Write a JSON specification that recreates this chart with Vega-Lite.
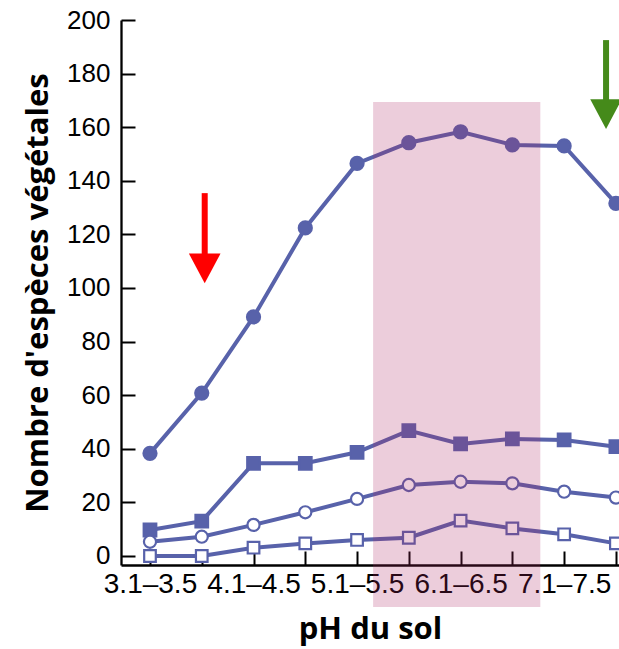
{
  "$schema": "https://vega.github.io/schema/vega-lite/v6.json",
  "autosize": {"type": "none"},
  "width": 498,
  "height": 545,
  "padding": {"left": 121, "top": 20, "right": 0, "bottom": 84},
  "background": "white",
  "config": {
    "view": {"stroke": null},
    "axis": {
      "domainColor": "black",
      "domainWidth": 2.3,
      "tickColor": "black",
      "tickWidth": 2,
      "tickSize": -14,
      "grid": false,
      "labelFont": "Liberation Sans",
      "labelFontSize": 26,
      "labelColor": "black",
      "titleFont": "Open Sans",
      "titleFontWeight": "bold",
      "titleFontSize": 31,
      "titleColor": "black",
      "labelOverlap": false,
      "labelBound": false,
      "labelFlush": false
    }
  },
  "datasets": {
    "series": [
      {"ph": "3.1–3.5", "i": 0, "serie": "A", "n": 38.3},
      {"ph": "3.6–4.0", "i": 1, "serie": "A", "n": 60.8},
      {"ph": "4.1–4.5", "i": 2, "serie": "A", "n": 89.2},
      {"ph": "4.6–5.0", "i": 3, "serie": "A", "n": 122.4},
      {"ph": "5.1–5.5", "i": 4, "serie": "A", "n": 146.5},
      {"ph": "5.6–6.0", "i": 5, "serie": "A", "n": 154.2},
      {"ph": "6.1–6.5", "i": 6, "serie": "A", "n": 158.3},
      {"ph": "6.6–7.0", "i": 7, "serie": "A", "n": 153.4},
      {"ph": "7.1–7.5", "i": 8, "serie": "A", "n": 153.0},
      {"ph": "7.6–8.0", "i": 9, "serie": "A", "n": 131.6},
      {"ph": "3.1–3.5", "i": 0, "serie": "B", "n": 9.7},
      {"ph": "3.6–4.0", "i": 1, "serie": "B", "n": 13.0},
      {"ph": "4.1–4.5", "i": 2, "serie": "B", "n": 34.6},
      {"ph": "4.6–5.0", "i": 3, "serie": "B", "n": 34.6},
      {"ph": "5.1–5.5", "i": 4, "serie": "B", "n": 38.7},
      {"ph": "5.6–6.0", "i": 5, "serie": "B", "n": 46.8},
      {"ph": "6.1–6.5", "i": 6, "serie": "B", "n": 41.8},
      {"ph": "6.6–7.0", "i": 7, "serie": "B", "n": 43.7},
      {"ph": "7.1–7.5", "i": 8, "serie": "B", "n": 43.3},
      {"ph": "7.6–8.0", "i": 9, "serie": "B", "n": 40.8},
      {"ph": "3.1–3.5", "i": 0, "serie": "C", "n": 5.3},
      {"ph": "3.6–4.0", "i": 1, "serie": "C", "n": 7.2},
      {"ph": "4.1–4.5", "i": 2, "serie": "C", "n": 11.6},
      {"ph": "4.6–5.0", "i": 3, "serie": "C", "n": 16.3},
      {"ph": "5.1–5.5", "i": 4, "serie": "C", "n": 21.3},
      {"ph": "5.6–6.0", "i": 5, "serie": "C", "n": 26.5},
      {"ph": "6.1–6.5", "i": 6, "serie": "C", "n": 27.7},
      {"ph": "6.6–7.0", "i": 7, "serie": "C", "n": 27.1},
      {"ph": "7.1–7.5", "i": 8, "serie": "C", "n": 24.0},
      {"ph": "7.6–8.0", "i": 9, "serie": "C", "n": 21.8},
      {"ph": "3.1–3.5", "i": 0, "serie": "D", "n": 0},
      {"ph": "3.6–4.0", "i": 1, "serie": "D", "n": 0},
      {"ph": "4.1–4.5", "i": 2, "serie": "D", "n": 3.1},
      {"ph": "4.6–5.0", "i": 3, "serie": "D", "n": 4.7},
      {"ph": "5.1–5.5", "i": 4, "serie": "D", "n": 6.0},
      {"ph": "5.6–6.0", "i": 5, "serie": "D", "n": 6.8},
      {"ph": "6.1–6.5", "i": 6, "serie": "D", "n": 13.2},
      {"ph": "6.6–7.0", "i": 7, "serie": "D", "n": 10.3},
      {"ph": "7.1–7.5", "i": 8, "serie": "D", "n": 8.1},
      {"ph": "7.6–8.0", "i": 9, "serie": "D", "n": 4.7}
    ],
    "zone": [{"x1": 4.31, "x2": 7.54, "y1": -19, "y2": 169.4}],
    "arrows": [
      {"kind": "acide", "x": 1.057, "top": 135.4, "end": 112, "head": 107.3},
      {"kind": "basique", "x": 8.81, "top": 192.5, "end": 170, "head": 164.9}
    ]
  },
  "layer": [
    {
      "data": {"name": "series"},
      "mark": {"type": "line", "color": "#5862aa", "strokeWidth": 4},
      "encoding": {
        "x": {
          "field": "i",
          "type": "quantitative",
          "scale": {"domain": [-0.56, 9.06], "nice": false, "zero": false},
          "axis": {
            "title": "pH du sol",
            "values": [0, 1, 2, 3, 4, 5, 6, 7, 8, 9],
            "labelExpr": "['3.1–3.5','','4.1–4.5','','5.1–5.5','','6.1–6.5','','7.1–7.5',''][datum.value]",
            "labelFontSize": 28,
            "labelPadding": 19,
            "titlePadding": 16
          }
        },
        "y": {
          "field": "n",
          "type": "quantitative",
          "scale": {"domain": [-3.36, 200], "nice": false, "zero": false},
          "axis": {
            "title": "Nombre d'espèces végétales",
            "values": [0, 20, 40, 60, 80, 100, 120, 140, 160, 180, 200],
            "labelPadding": 25,
            "titlePadding": 12
          }
        },
        "detail": {"field": "serie"}
      }
    },
    {
      "data": {"name": "series"},
      "mark": {"type": "point", "filled": true, "stroke": "#5862aa", "strokeWidth": 2.2, "opacity": 1},
      "encoding": {
        "x": {"field": "i", "type": "quantitative", "title": "pH du sol"},
        "y": {"field": "n", "type": "quantitative", "title": "Nombre d'espèces végétales"},
        "shape": {"field": "serie", "type": "nominal", "scale": {"domain": ["A", "B", "C", "D"], "range": ["circle", "square", "circle", "square"]}, "legend": null},
        "fill": {"field": "serie", "type": "nominal", "scale": {"domain": ["A", "B", "C", "D"], "range": ["#5862aa", "#5862aa", "#ffffff", "#ffffff"]}, "legend": null},
        "size": {"field": "serie", "type": "nominal", "scale": {"domain": ["A", "B", "C", "D"], "range": [170, 135, 210, 130]}, "legend": null}
      }
    },
    {
      "data": {"name": "zone"},
      "mark": {"type": "rect", "color": "#ac2764", "opacity": 0.23, "clip": false},
      "encoding": {
        "x": {"field": "x1", "type": "quantitative", "title": "pH du sol"},
        "x2": {"field": "x2"},
        "y": {"field": "y1", "type": "quantitative", "title": "Nombre d'espèces végétales"},
        "y2": {"field": "y2"}
      }
    },
    {
      "data": {"name": "arrows"},
      "mark": {"type": "rule", "strokeWidth": 6, "strokeCap": "butt"},
      "encoding": {
        "x": {"field": "x", "type": "quantitative", "title": "pH du sol"},
        "y": {"field": "top", "type": "quantitative", "title": "Nombre d'espèces végétales"},
        "y2": {"field": "end"},
        "color": {"field": "kind", "type": "nominal", "scale": {"domain": ["acide", "basique"], "range": ["#ff0000", "#458a1a"]}, "legend": null}
      }
    },
    {
      "data": {"name": "arrows"},
      "mark": {"type": "point", "filled": true, "opacity": 1, "size": 1000, "shape": "M-1,-0.94L1,-0.94L0,0.94Z"},
      "encoding": {
        "x": {"field": "x", "type": "quantitative", "title": "pH du sol"},
        "y": {"field": "head", "type": "quantitative", "title": "Nombre d'espèces végétales"},
        "color": {"field": "kind", "type": "nominal", "scale": {"domain": ["acide", "basique"], "range": ["#ff0000", "#458a1a"]}, "legend": null}
      }
    }
  ]
}
